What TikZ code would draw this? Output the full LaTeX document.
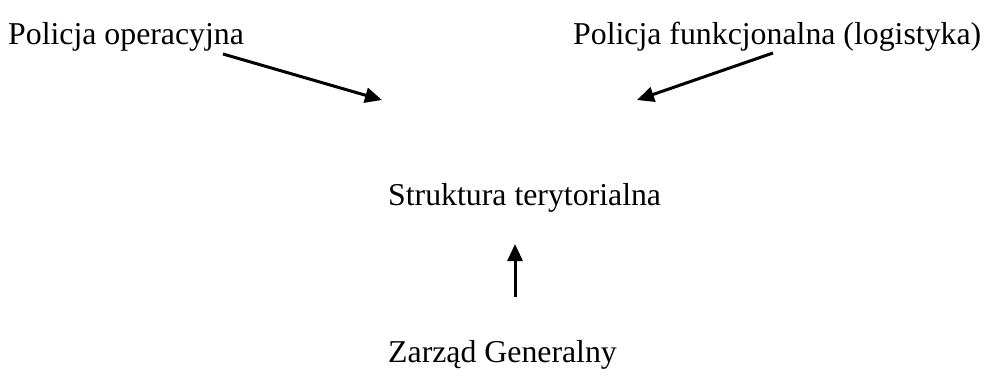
\documentclass[tikz,border=0pt]{standalone}
\usepackage{fontspec}
\setmainfont{Liberation Serif}
\usetikzlibrary{arrows.meta}
\tikzset{
  lbl/.style={font=\fontsize{31.8}{38}\selectfont,inner sep=0pt,anchor=base west},
  arr/.style={-{Triangle[length=17pt,width=15pt]},line width=3pt,black},
}
\begin{document}
\begin{tikzpicture}[x=1pt,y=-1pt]
  \useasboundingbox (0,0) rectangle (988,376);
  \node[lbl] (po) at (8,44)   {Policja operacyjna};
  \node[lbl] (pf) at (573,44) {Policja funkcjonalna (logistyka)};
  \node[lbl] (st) at (388,205) {Struktura terytorialna};
  \node[lbl] (zg) at (388,362) {Zarząd Generalny};
  \coordinate (poS) at (223,54);
  \coordinate (poE) at (382,100);
  \coordinate (pfS) at (773,53);
  \coordinate (pfE) at (637,100);
  \coordinate (zgS) at (515,297);
  \coordinate (stE) at (515,244);
  \draw[arr] (poS) -- (poE);
  \draw[arr] (pfS) -- (pfE);
  \draw[arr] (zgS) -- (stE);
\end{tikzpicture}
\end{document}
